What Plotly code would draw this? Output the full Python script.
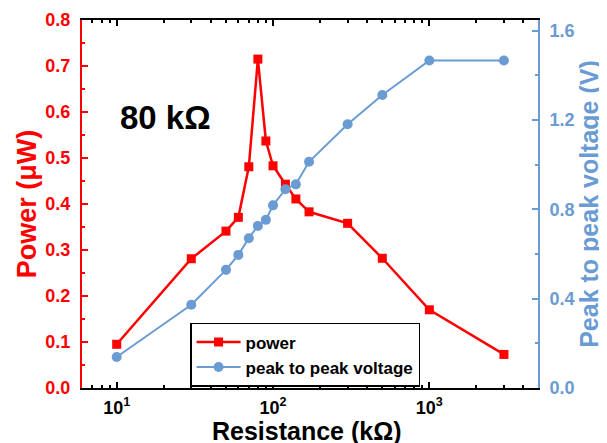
import plotly.graph_objects as go

resistance = [10, 30, 50, 60, 70, 80, 90, 100, 120, 140, 170, 300, 500, 1000, 3000]
power = [0.095, 0.281, 0.341, 0.371, 0.481, 0.715, 0.537, 0.483, 0.443, 0.411, 0.383, 0.358, 0.282, 0.170, 0.073]
voltage = [0.139, 0.373, 0.529, 0.596, 0.671, 0.726, 0.753, 0.818, 0.890, 0.912, 1.013, 1.181, 1.312, 1.467, 1.467]

x_tickvals = [10, 100, 1000]
x_ticktext = ["10<sup>1</sup>", "10<sup>2</sup>", "10<sup>3</sup>"]
y2_tickvals = [0, 0.4, 0.8, 1.2, 1.6]
y2_ticktext = ["0.0", "0.4", "0.8", "1.2", "1.6"]

RED = "#ff0000"
BLUE = "#6a9bd2"
FONT = "Liberation Sans, Arial, sans-serif"

fig = go.Figure()
fig.add_trace(go.Scatter(
    x=resistance, y=power, name="power", mode="lines+markers",
    line=dict(color=RED, width=2.5),
    marker=dict(symbol="square", size=9, color=RED),
    yaxis="y"))
fig.add_trace(go.Scatter(
    x=resistance, y=voltage, name="peak to peak voltage", mode="lines+markers",
    line=dict(color=BLUE, width=2),
    marker=dict(symbol="circle", size=10, color=BLUE),
    yaxis="y2"))

fig.update_layout(
    width=607, height=443,
    margin=dict(l=74, r=77, t=12, b=63),
    paper_bgcolor="white", plot_bgcolor="white",
    showlegend=True,
    legend=dict(
        x=0.237, y=0.177, xanchor="left", yanchor="top",
        bordercolor="black", borderwidth=1.5, bgcolor="white",
        font=dict(family=FONT, size=17, color="black", weight="bold"),
        itemwidth=44, tracegroupgap=0,
    ),
    xaxis=dict(
        type="log", range=[0.778, 3.695], automargin=False,
        tickvals=x_tickvals, ticktext=x_ticktext,
        showline=True, linecolor="black", linewidth=2, mirror="ticks",
        ticks="inside", ticklen=6, tickwidth=1.5, tickcolor="black",
        minor=dict(ticks="inside", ticklen=3, tickwidth=1.5, tickcolor="black", dtick="D1", showgrid=False),
        showgrid=False, zeroline=False,
        tickfont=dict(family=FONT, size=18, color="black", weight="bold"),
        ticklabelstandoff=2,
    ),
    yaxis=dict(
        range=[0, 0.8], dtick=0.1, tickformat=".1f", automargin=False,
        showline=True, linecolor=RED, linewidth=2,
        ticks="inside", ticklen=6, tickwidth=1.5, tickcolor=RED,
        minor=dict(ticks="inside", ticklen=3, tickwidth=1.5, tickcolor=RED, dtick=0.05, showgrid=False),
        showgrid=False, zeroline=False,
        tickfont=dict(family=FONT, size=18, color=RED, weight="bold"),
        ticklabelstandoff=6,
        title=dict(text="Power (μW)", standoff=1,
                   font=dict(family=FONT, size=27, color=RED, weight="bold")),
    ),
    yaxis2=dict(
        overlaying="y", side="right", automargin=False,
        range=[0, 1.648], tickvals=y2_tickvals, ticktext=y2_ticktext,
        showline=True, linecolor=BLUE, linewidth=2,
        ticks="inside", ticklen=6, tickwidth=1.5, tickcolor=BLUE,
        minor=dict(ticks="inside", ticklen=3, tickwidth=1.5, tickcolor=BLUE, tickvals=[0.2, 0.6, 1.0, 1.4], showgrid=False),
        showgrid=False, zeroline=False,
        tickfont=dict(family=FONT, size=18, color=BLUE, weight="bold"),
        ticklabelstandoff=6,
        title=dict(text="Peak to peak voltage (V)", standoff=3,
                   font=dict(family=FONT, size=25, color=BLUE, weight="bold")),
    ),
    annotations=[
        dict(text="80 kΩ", xref="paper", yref="paper", x=0.184, y=0.735,
             xanchor="center", yanchor="middle", showarrow=False,
             font=dict(family=FONT, size=33, color="black", weight="bold")),
        dict(text="Resistance (kΩ)", xref="paper", yref="paper", x=0.493, y=-0.118,
             xanchor="center", yanchor="middle", showarrow=False,
             font=dict(family=FONT, size=25, color="black", weight="bold")),
    ],
)

fig.write_html("out.html")
